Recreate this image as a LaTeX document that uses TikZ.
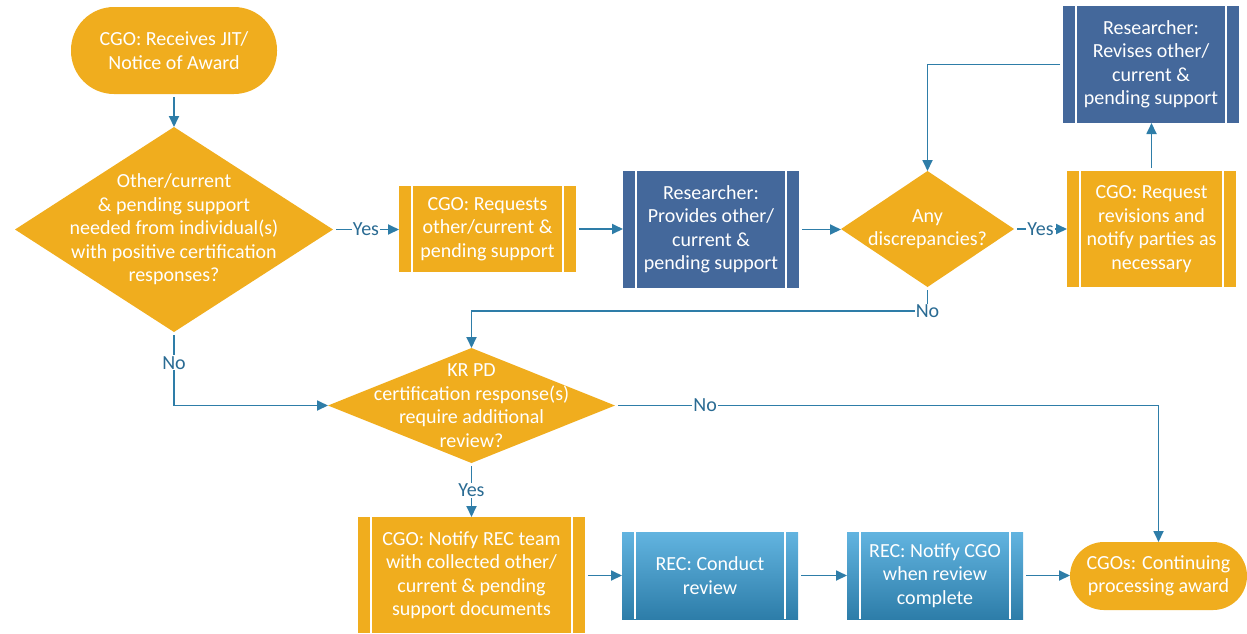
\documentclass[tikz,border=0pt]{standalone}
\usepackage{fontspec}
\setmainfont{Carlito}
\usetikzlibrary{shapes.geometric,arrows.meta}
\definecolor{cgoorange}{HTML}{F0AD1E}
\definecolor{resblue}{HTML}{44689B}
\definecolor{rectop}{HTML}{62B4E0}
\definecolor{recbottom}{HTML}{2D7DA9}
\definecolor{flowline}{HTML}{2E7DA8}
\definecolor{flowlabel}{HTML}{2A6B93}

\tikzset{
  txt/.style={text=white, align=center, font=\fontsize{20}{23.5}\selectfont},
  terminal/.style={txt, fill=cgoorange, inner sep=0pt, outer sep=0pt},
  decision/.style={diamond, fill=cgoorange, inner sep=0pt, outer sep=0pt},
  %% 兩側加白色直線的預定程序框
  proc/.style={txt, inner sep=0pt, outer sep=0pt,
    path picture={
      \draw[white, line width=1.8pt]
        ([xshift=13pt]path picture bounding box.north west) --
        ([xshift=13pt]path picture bounding box.south west);
      \draw[white, line width=1.8pt]
        ([xshift=-13pt]path picture bounding box.north east) --
        ([xshift=-13pt]path picture bounding box.south east);}},
  cgoproc/.style={proc, fill=cgoorange},
  resproc/.style={proc, fill=resblue},
  recproc/.style={proc, top color=rectop, bottom color=recbottom},
  flow/.style={draw=flowline, line width=1.8pt, shorten <=3pt,
    -{Triangle[length=11pt, width=10pt]}},
  lbl/.style={fill=white, text=flowlabel, inner sep=1pt,
    font=\fontsize{20}{23.5}\selectfont}
}

\begin{document}
\begin{tikzpicture}[x=1pt, y=-1pt]

  \useasboundingbox (0,0) rectangle (1247,633);

  %% 第一列
  \node[terminal, rounded corners=43pt, minimum width=206pt, minimum height=87pt]
    (start) at (174,50.5) {CGO: Receives JIT/\\Notice of Award};
  \node[decision, minimum width=318pt, minimum height=205pt,
    label={[txt]center:Other/current\\\& pending support\\needed from individual(s)\\with positive certification\\responses?}]
    (q1) at (174,229.5) {};
  \node[cgoproc, minimum width=177pt, minimum height=86pt]
    (req) at (487.5,229) {CGO: Requests\\other/current \&\\pending support};
  \node[resproc, minimum width=176pt, minimum height=117pt]
    (prov) at (711,229.5) {Researcher:\\Provides other/\\current \&\\pending support};
  \node[decision, minimum width=173pt, minimum height=116pt,
    label={[txt]center:Any\\discrepancies?}]
    (q2) at (927.5,229) {};
  \node[cgoproc, minimum width=169pt, minimum height=116pt]
    (revreq) at (1151.5,229) {CGO: Request\\revisions and\\notify parties as\\necessary};
  \node[resproc, minimum width=176pt, minimum height=117pt]
    (revise) at (1151,64.5) {Researcher:\\Revises other/\\current \&\\pending support};

  %% 第二列
  \node[decision, minimum width=287pt, minimum height=115pt,
    label={[txt]center:KR PD\\certification response(s)\\require additional\\review?}]
    (q3) at (471.5,405.5) {};

  %% 第三列
  \node[cgoproc, minimum width=227pt, minimum height=116pt]
    (notify) at (471.5,575) {CGO: Notify REC team\\with collected other/\\current \& pending\\support documents};
  \node[recproc, minimum width=176pt, minimum height=87pt]
    (review) at (710,575.5) {REC: Conduct\\review};
  \node[recproc, minimum width=176pt, minimum height=87pt]
    (notcgo) at (935,575.5) {REC: Notify CGO\\when review\\complete};
  \node[terminal, rounded corners=34pt, minimum width=177pt, minimum height=68pt]
    (end) at (1158.5,576) {CGOs: Continuing\\processing award};

  %% 連線
  \draw[flow] (start.south) -- (q1.north);
  \draw[flow] (q1.east) -- node[lbl] {Yes} (req.west |- q1.east);
  \draw[flow] (req.east) -- (prov.west |- req.east);
  \draw[flow] (prov.east) -- (q2.west |- prov.east);
  \draw[flow] (q2.east) -- node[lbl] {Yes} (revreq.west |- q2.east);
  \draw[flow] (revreq.north) -- (revise.south -| revreq.north);
  \draw[flow] (revise.west) -| (q2.north);

  \coordinate (nobend) at (927.5,311);
  \draw[flow] (q2.south) -- (q2.south |- nobend) -| (q3.north);
  \node[lbl] (nolbl) at (nobend) {No};

  \draw[flow] (q1.south) |- node[lbl, pos=0.21] {No} (q3.west);
  \draw[flow] (q3.east) -| node[lbl, pos=0.083] {No} (end.north);
  \draw[flow] (q3.south) -- node[lbl] {Yes} (notify.north);

  \draw[flow] (notify.east |- review.west) -- (review.west);
  \draw[flow] (review.east) -- (notcgo.west);
  \draw[flow] (notcgo.east) -- (end.west |- notcgo.east);

\end{tikzpicture}
\end{document}
